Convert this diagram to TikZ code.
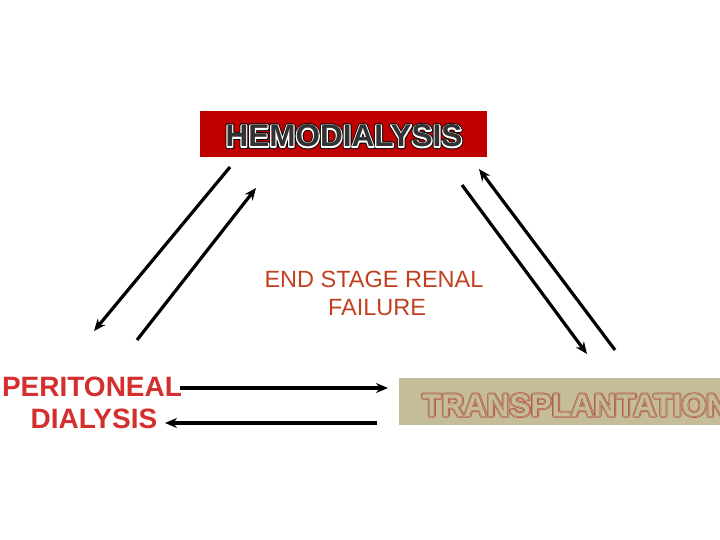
\documentclass[tikz,border=0pt]{standalone}
\usepackage{fontspec}
\setmainfont{Liberation Sans}
\usetikzlibrary{arrows.meta}
\definecolor{hemored}{RGB}{192,0,0}
\definecolor{hemoin}{RGB}{50,50,50}
\definecolor{tanbox}{RGB}{196,189,151}
\definecolor{tanline}{RGB}{178,80,70}
\definecolor{pdred}{RGB}{212,46,46}
\definecolor{esrf}{RGB}{192,64,32}
\tikzset{
  conn/.style={line width=3.2pt, -{Stealth[length=12pt,width=10pt]}},
  big/.style={font=\bfseries\fontsize{31.5}{34}\selectfont, inner sep=0pt, anchor=base, line join=round},
  pd/.style={font=\bfseries\fontsize{28}{32}\selectfont, inner sep=0pt, anchor=base, text=pdred},
  es/.style={font=\fontsize{23.5}{28}\selectfont, inner sep=0pt, anchor=base, text=esrf},
}
\begin{document}
\begin{tikzpicture}[x=1pt,y=-1pt]
\useasboundingbox (0,0) rectangle (720,540);
% HEMODIALYSIS
\fill[hemored] (200,111) rectangle (487,157);
\node[big, text=black] (h1) at (344,147) {\addfontfeature{FakeBold=13}HEMODIALYSIS};
\node[big, text=white] (h2) at (344,147) {\addfontfeature{FakeBold=7.5}HEMODIALYSIS};
\node[big, text=hemoin] (h3) at (344,147) {HEMODIALYSIS};
% TRANSPLANTATION
\fill[tanbox] (399,378) rectangle (730,425);
\node[big, anchor=base west, text=tanline] (t1) at (422,416) {\addfontfeature{FakeBold=11}TRANSPLANTATION};
\node[big, anchor=base west, text=tanbox] (t2) at (422,416) {\addfontfeature{FakeBold=6.5}TRANSPLANTATION};
\node[big, anchor=base west, text=tanline] (t3) at (422,416) {\addfontfeature{FakeBold=3}TRANSPLANTATION};
\node[big, anchor=base west, text=tanbox] (t4) at (422,416) {TRANSPLANTATION};
% PERITONEAL DIALYSIS
\node[pd] (p1) at (92,396) {PERITONEAL};
\node[pd] (p2) at (94,428) {DIALYSIS};
% END STAGE RENAL FAILURE
\node[es] (e1) at (374,287) {END STAGE RENAL};
\node[es] (e2) at (377,315) {FAILURE};
% arrow end points
\coordinate (a1s) at (230,167); \coordinate (a1e) at (94,331);
\coordinate (a2s) at (137,340); \coordinate (a2e) at (256,188);
\coordinate (a3s) at (462,185); \coordinate (a3e) at (587,354);
\coordinate (a4s) at (615,350); \coordinate (a4e) at (479,169);
\coordinate (a5s) at (180,388); \coordinate (a5e) at (388,388);
\coordinate (a6s) at (377,423); \coordinate (a6e) at (165,423);
\draw[conn] (a1s) -- (a1e);
\draw[conn] (a2s) -- (a2e);
\draw[conn] (a3s) -- (a3e);
\draw[conn] (a4s) -- (a4e);
\draw[conn] (a5s) -- (a5e);
\draw[conn] (a6s) -- (a6e);
\end{tikzpicture}
\end{document}
